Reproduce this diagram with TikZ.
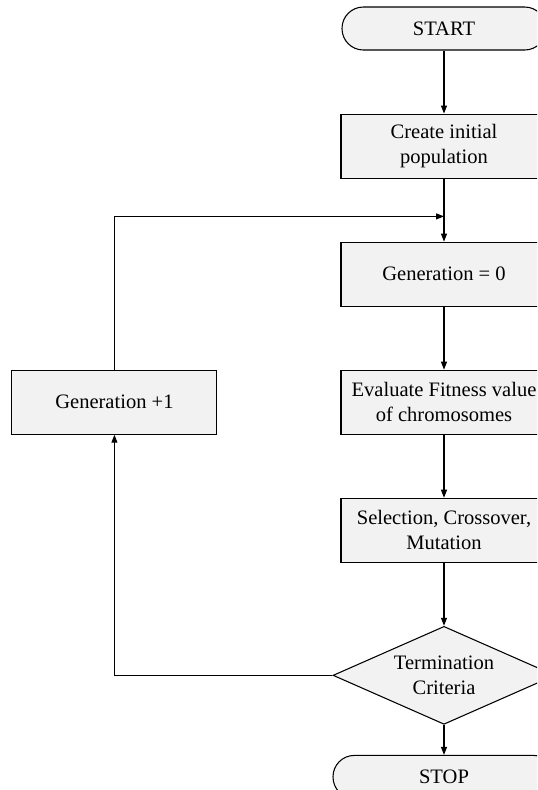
\documentclass[tikz,border=0pt]{standalone}
\usepackage{fontspec}
\setmainfont{Liberation Serif}
\usetikzlibrary{positioning,shapes.geometric,arrows.meta,calc}
\definecolor{boxfill}{RGB}{242,242,242}

\begin{document}
\begin{tikzpicture}[
x=0.75pt,y=-0.75pt,
node distance=47.25pt,
font=\fontsize{15.4}{18.75}\selectfont,
line width=0.8pt,
>={Triangle[length=6pt,width=4.5pt]},
box/.style={rectangle,draw,fill=boxfill,align=center,minimum width=154.5pt,minimum height=48pt,inner sep=2pt},
term/.style={rectangle,draw,fill=boxfill,rounded corners=16pt,minimum width=153pt,minimum height=32.25pt},
decide/.style={diamond,draw,fill=boxfill,align=center,aspect=2.27,inner sep=1pt,minimum width=166.5pt,minimum height=73.5pt}
]
\useasboundingbox (0,0) rectangle (537,790);
\clip (0,0) rectangle (537,790);

\node[term] (start) at (444,28.5) {START};
\node[box, below=of start] (create) {Create initial \\ population};
\node[box, below=of create] (gen0) {Generation = 0};
\node[box, below=of gen0] (eval) {Evaluate Fitness value \\ of chromosomes};
\node[box, below=of eval] (sel) {Selection, Crossover, \\ Mutation};
\node[decide, below=of sel] (crit) {Termination \\ Criteria};
\node[term, below=22.5pt of crit, minimum width=166.5pt] (stop) {STOP};
\node[box, left=92.25pt of eval, minimum width=153.75pt] (genplus) {Generation +1};

\coordinate (join) at ($(create.south)!0.6!(gen0.north)$);

\draw[->] (start) -- (create);
\draw[->] (create) -- (gen0);
\draw[->] (gen0) -- (eval);
\draw[->] (eval) -- (sel);
\draw[->] (sel) -- (crit);
\draw[->] (crit) -- (stop);
\draw[->] (crit.west) -| (genplus.south);
\draw[->] (genplus.north) |- (join);

\end{tikzpicture}
\end{document}
